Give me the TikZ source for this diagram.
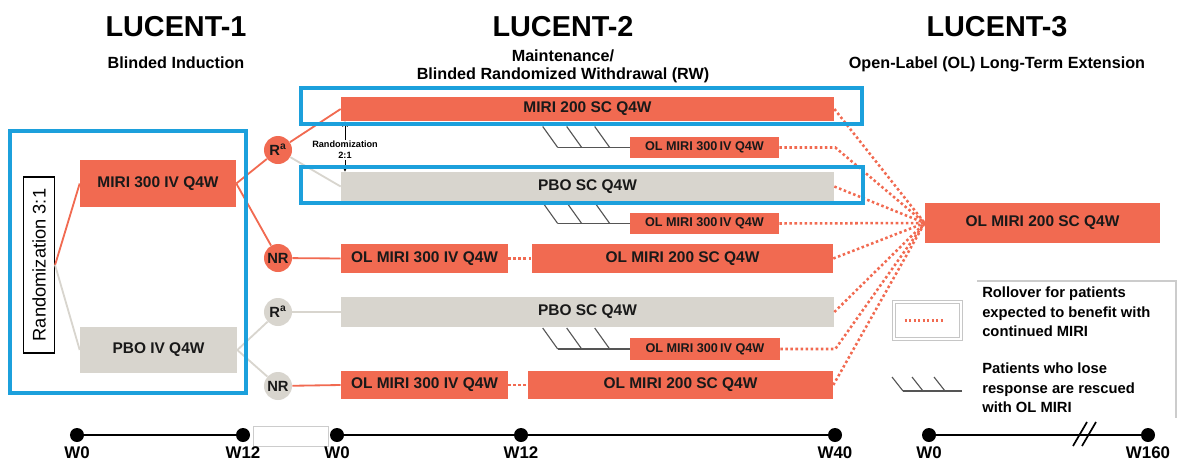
\documentclass[tikz,border=0pt]{standalone}
\usepackage{fontspec}
\setmainfont{Liberation Sans}
\usepackage{tikz}
\usetikzlibrary{arrows.meta, positioning, fit}
\definecolor{miriorange}{RGB}{241,106,81}
\definecolor{pbogray}{RGB}{216,213,206}
\definecolor{rwblue}{RGB}{28,160,220}
\definecolor{hookgray}{RGB}{85,85,85}
\tikzset{
  boxorange/.style={
    rectangle, fill=miriorange, draw=none,
    text=black!90, font=\fontsize{11}{13}\selectfont\bfseries,
    inner sep=0pt
  },
  boxgray/.style={boxorange, fill=pbogray},
  boxsmall/.style={boxorange, font=\fontsize{9}{11}\selectfont\bfseries},
  circorange/.style={
    circle, fill=miriorange, minimum size=0.7cm, inner sep=0pt,
    text=black!90, font=\fontsize{10.5}{12}\selectfont\bfseries
  },
  circgray/.style={circorange, fill=pbogray},
  studytitle/.style={font=\fontsize{20.5}{24}\selectfont\bfseries, inner sep=0pt},
  studysub/.style={font=\fontsize{11.5}{12.8}\selectfont\bfseries, align=center, inner sep=0pt},
  rwframe/.style={draw=rwblue, line width=2.6pt},
  linkorange/.style={draw=miriorange, line width=1.3pt},
  linkgray/.style={draw=pbogray, line width=1.3pt},
  rollover/.style={draw=miriorange, line width=1.8pt, dash pattern=on 1.8pt off 1.8pt},
  rescue/.style={draw=hookgray, line width=0.8pt},
  legendtext/.style={font=\fontsize{10.5}{13.8}\selectfont\bfseries, align=left, anchor=west, inner sep=0pt},
  tdot/.style={circle, fill=black, minimum size=0.35cm, inner sep=0pt},
  tline/.style={draw=black, line width=1.8pt},
  ttick/.style={font=\fontsize{12}{14}\selectfont\bfseries, inner sep=1pt, label distance=2pt}
}

\begin{document}
\begin{tikzpicture}[x=0.025cm, y=-0.025cm]
  \useasboundingbox (0,0) rectangle (1180,461);

  % --- Titres ---
  \node[studytitle] (l1title) at (176,27) {LUCENT-1};
  \node[studysub] (l1sub) at (176,63) {Blinded Induction};
  \node[studytitle] (l2title) at (563,27) {LUCENT-2};
  \node[studysub] (l2sub) at (563,66) {Maintenance/\\Blinded Randomized Withdrawal (RW)};
  \node[studytitle] (l3title) at (997,27) {LUCENT-3};
  \node[studysub] (l3sub) at (997,64) {Open-Label (OL) Long-Term Extension};

  % --- LUCENT-1 ---
  \node[draw=black, line width=0.8pt, rotate=90, minimum width=4.4cm, minimum height=0.775cm,
        inner sep=0pt, font=\fontsize{13}{15}\selectfont] (rand31) at (39,265) {Randomization 3:1};
  \node[boxorange, minimum width=3.9cm, minimum height=1.175cm] (miri300) at (158,183.5) {MIRI 300 IV Q4W};
  \node[boxgray, minimum width=3.925cm, minimum height=1.15cm] (pboiv) at (158.5,350) {PBO IV Q4W};

  \node[circorange] (rA) at (278,150) {R\textsuperscript{a}};
  \node[circorange] (nrA) at (278,258) {NR};
  \node[circgray] (rB) at (278,312) {R\textsuperscript{a}};
  \node[circgray] (nrB) at (278,386) {NR};

  % --- LUCENT-2 ---
  \node[boxorange, minimum width=12.325cm, minimum height=0.6cm] (miri200) at (587.5,109) {MIRI 200 SC Q4W};
  \node[boxgray, minimum width=12.325cm, minimum height=0.725cm] (pbosc1) at (587.5,186.5) {PBO SC Q4W};
  \node[boxsmall, minimum width=3.725cm, minimum height=0.525cm] (olsmalla) at (704.5,147.5) {OL MIRI 300\,IV Q4W};
  \node[boxsmall, minimum width=3.725cm, minimum height=0.525cm] (olsmallb) at (704.5,223.5) {OL MIRI 300\,IV Q4W};
  \node[boxorange, minimum width=4.175cm, minimum height=0.725cm] (ol300a) at (424.5,258.5) {OL MIRI 300 IV Q4W};
  \node[boxorange, minimum width=7.525cm, minimum height=0.725cm] (ol200a) at (682.5,258.5) {OL MIRI 200 SC Q4W};
  \node[boxgray, minimum width=12.325cm, minimum height=0.75cm] (pbosc2) at (587.5,312) {PBO SC Q4W};
  \node[boxsmall, minimum width=3.75cm, minimum height=0.55cm] (olsmallc) at (705,349) {OL MIRI 300\,IV Q4W};
  \node[boxorange, minimum width=4.175cm, minimum height=0.7cm] (ol300b) at (424.5,385) {OL MIRI 300 IV Q4W};
  \node[boxorange, minimum width=7.625cm, minimum height=0.7cm] (ol200b) at (680.5,385) {OL MIRI 200 SC Q4W};

  \node[font=\fontsize{6.5}{8}\selectfont\bfseries, align=center, inner sep=0.5pt] (rand21) at (345,150) {Randomization\\2:1};

  % --- LUCENT-3 ---
  \node[boxorange, minimum width=5.875cm, minimum height=1cm] (lte) at (1042.5,223) {OL MIRI 200 SC Q4W};

  % --- Connexions ---
  \draw[linkorange] (rand31.south) -- (miri300.west);
  \draw[linkgray] (rand31.south) -- (pboiv.west);
  \draw[linkorange] (miri300.east) -- (rA);
  \draw[linkorange] (miri300.east) -- (nrA);
  \draw[linkgray] (pboiv.east) -- (rB);
  \draw[linkgray] (pboiv.east) -- (nrB);
  \draw[linkorange] (rA) -- (miri200.west);
  \draw[linkgray] (rA) -- (pbosc1.west);
  \draw[linkorange] (nrA) -- (ol300a.west);
  \draw[linkgray] (rB) -- (pbosc2.west);
  \draw[linkorange] (nrB) -- (ol300b.west);
  \draw[rollover] (ol300a.east) -- (ol200a.west);
  \draw[rollover] (ol300b.east) -- (ol200b.west);

  \draw[-{Stealth[length=4pt, width=4pt]}, line width=0.6pt] (rand21.north) -- (rand21.north |- miri200.south);
  \draw[-{Stealth[length=4pt, width=4pt]}, line width=0.6pt] (rand21.south) -- (rand21.south |- pbosc1.north);

  % --- Sauvetage (rescue) ---
  \foreach \row in {olsmalla, olsmallb, olsmallc} {
    \draw[rescue] (\row.west) -- ++(-72,0);
    \foreach \dx in {-72,-48,-20}
      \draw[rescue] (\row.west) ++(\dx,0) -- ++(-15,-21);
  }

  % --- Rollover vers LUCENT-3 ---
  \foreach \src in {miri200, pbosc1, olsmallb, ol200a, pbosc2, ol200b}
    \draw[rollover] (\src.east) -- (lte.west);
  \draw[rollover] (olsmalla.east) -- ++(56,0) -- (lte.west);
  \draw[rollover] (olsmallc.east) -- ++(55,0) -- (lte.west);

  % --- Cadres RW ---
  \draw[rwframe] (10,131) rectangle (246,393);
  \draw[rwframe] (301,88) rectangle (862,124);
  \draw[rwframe] (301,167) rectangle (863,203);

  % --- Legende ---
  \draw[draw=gray!40, line width=0.8pt] (977,281) -- (1176,281) -- (1176,418);
  \node[draw=gray!45, double=white, double distance=1.2pt, line width=0.6pt,
        minimum width=1.675cm, minimum height=0.925cm] (lgsample) at (927.5,320.5) {};
  \draw[rollover, line width=1.6pt, dash pattern=on 1.6pt off 1.6pt] (lgsample.west) ++(11,0) -- ++(40,0);
  \node[legendtext] (lgroll) at (982,312) {Rollover for patients\\expected to benefit with\\continued MIRI};
  \coordinate (lghook) at (962,391);
  \draw[rescue] (lghook) -- ++(-59,0);
  \foreach \dx in {-59,-39,-17}
    \draw[rescue] (lghook) ++(\dx,0) -- ++(-11,-14);
  \node[legendtext] (lgrescue) at (982,388) {Patients who lose\\response are rescued\\with OL MIRI};

  % --- Axe du temps ---
  \node[draw=gray!40, fill=white, line width=0.6pt, minimum width=1.875cm, minimum height=0.5cm] (tgap) at (290.5,436) {};
  \node[tdot, label={[ttick]below:W0}] (t1a) at (77,435) {};
  \node[tdot, label={[ttick]below:W12}] (t1b) at (243,435) {};
  \node[tdot, label={[ttick]below:W0}] (t2a) at (337,435) {};
  \node[tdot, label={[ttick]below:W12}] (t2b) at (521,435) {};
  \node[tdot, label={[ttick]below:W40}] (t2c) at (835,435) {};
  \node[tdot, label={[ttick]below:W0}] (t3a) at (929,435) {};
  \node[tdot, label={[ttick]below:W160}] (t3b) at (1148,435) {};
  \draw[tline] (t1a) -- (t1b);
  \draw[tline] (t2a) -- (t2b) -- (t2c);
  \draw[tline] (t3a) -- (t3b);
  \draw[line width=1.2pt] (1073,446) -- (1087,422);
  \draw[line width=1.2pt] (1082,446) -- (1096,422);

\end{tikzpicture}
\end{document}
